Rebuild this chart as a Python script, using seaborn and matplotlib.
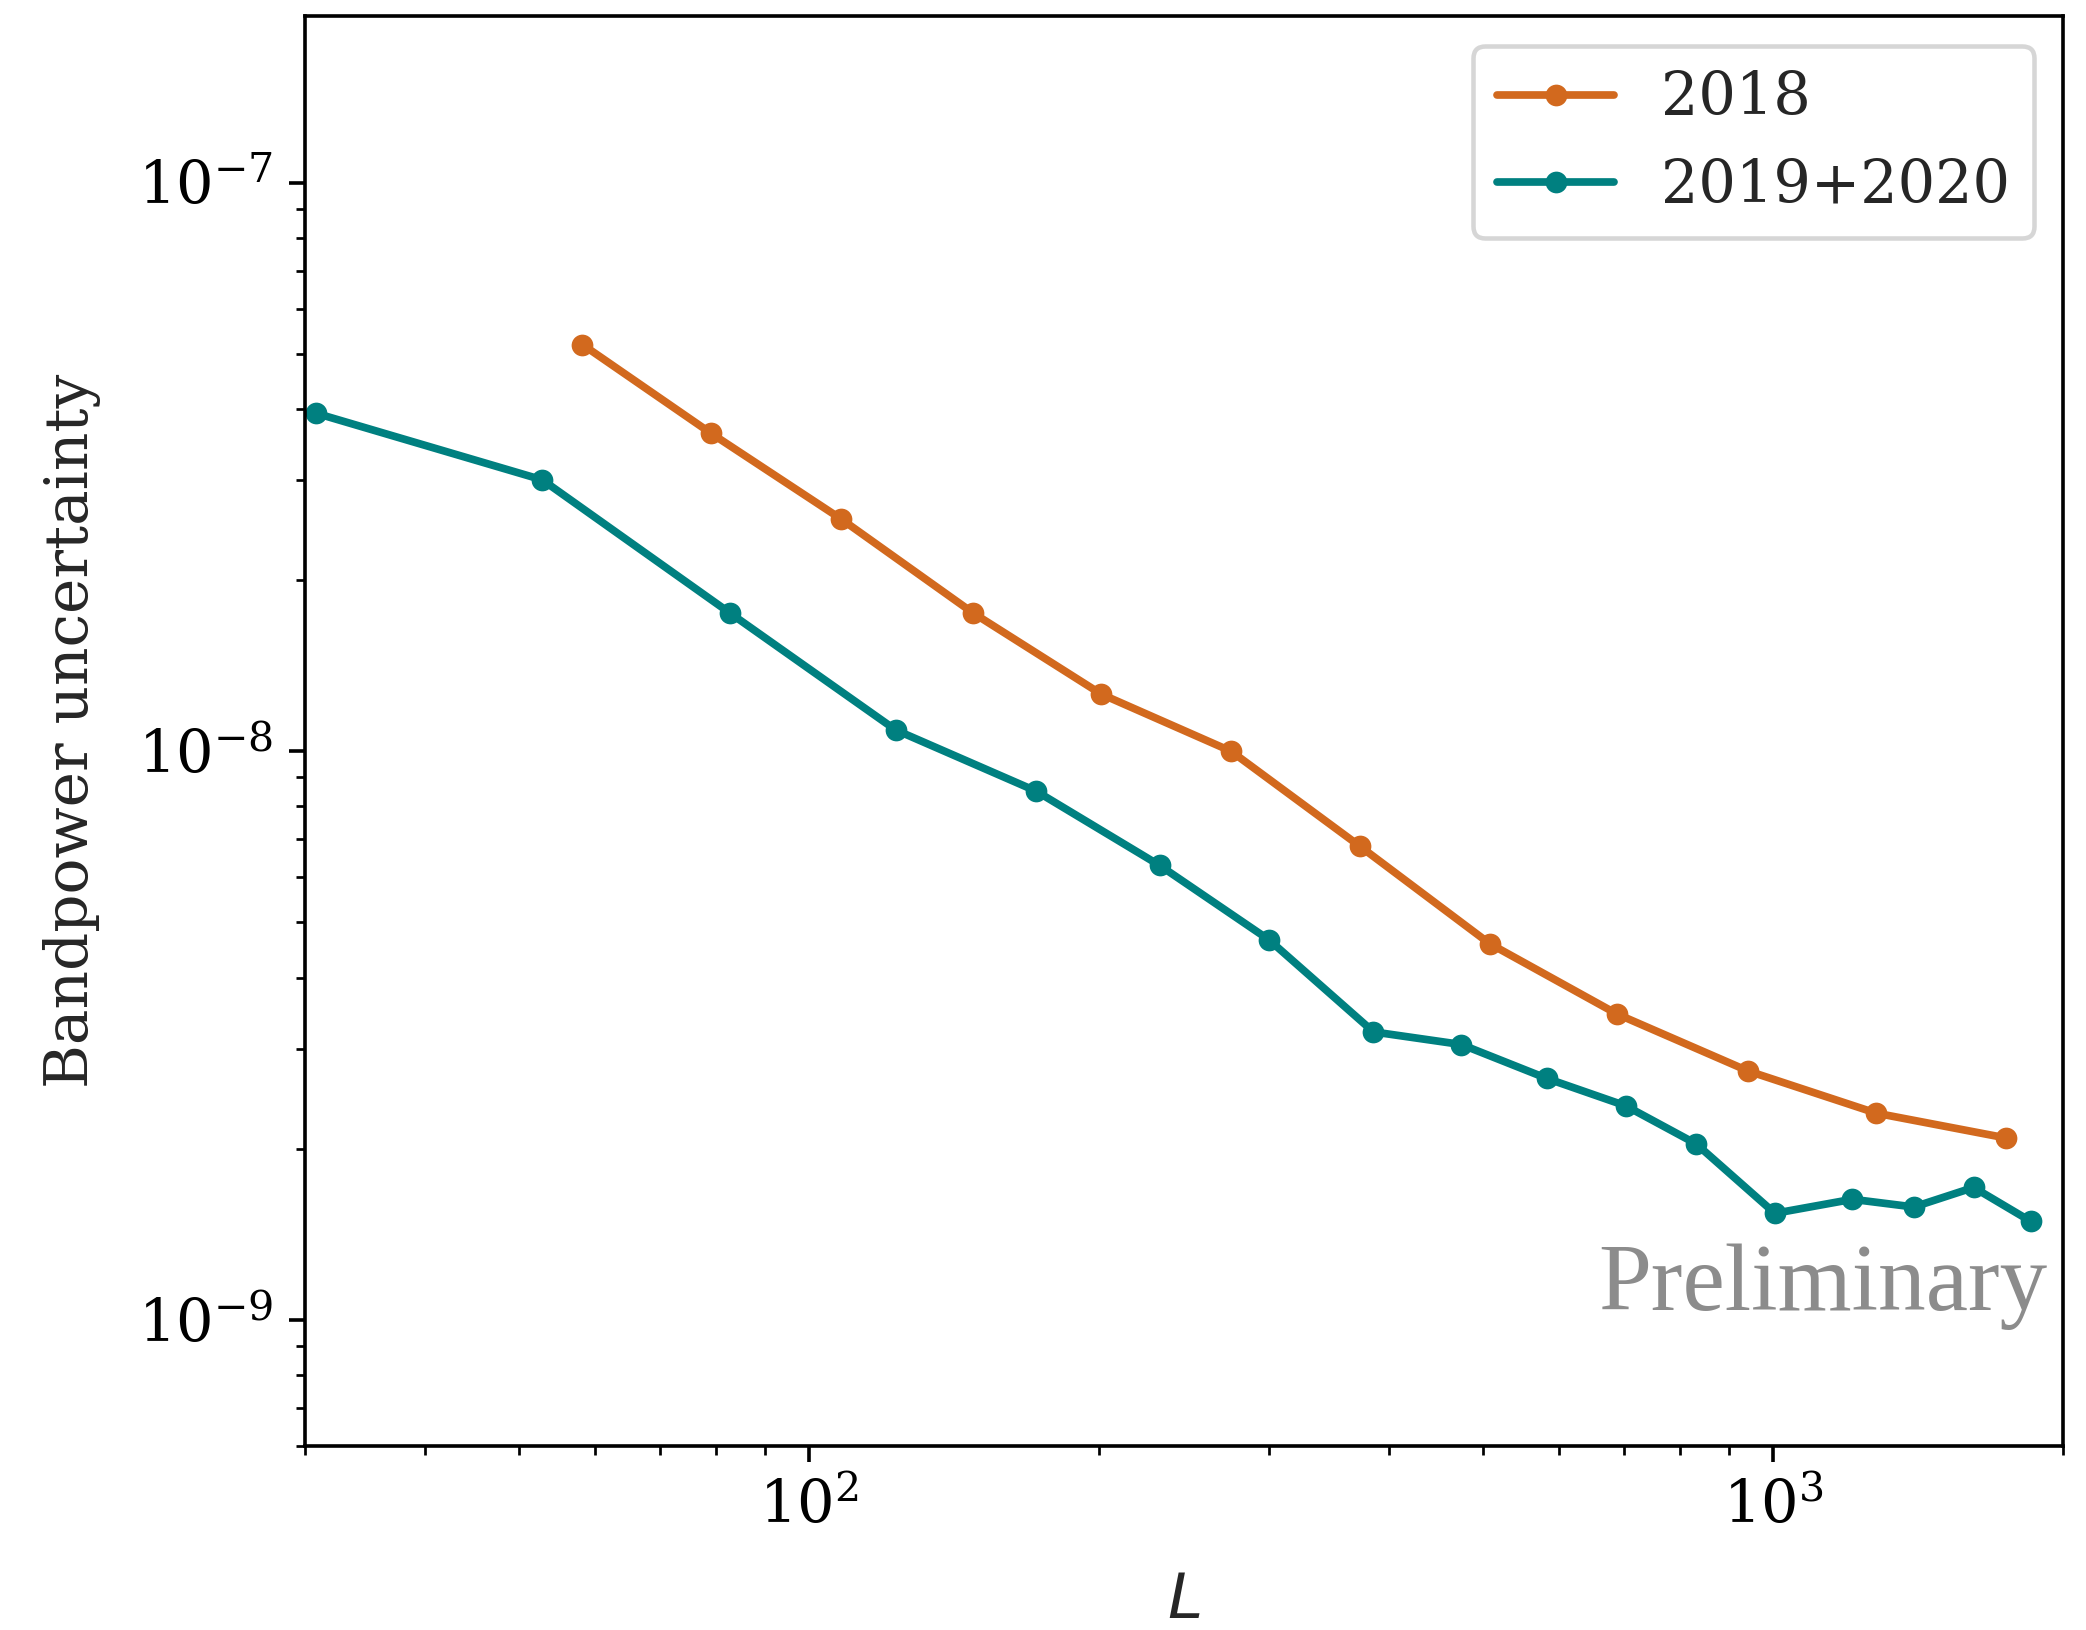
import numpy as np
import pandas as pd
import matplotlib
matplotlib.use("Agg")
import matplotlib.pyplot as plt
import seaborn as sns

# ---- data ----
L_2018 = [58.2, 79.2, 108, 148, 201, 274, 373, 508, 689, 942, 1279, 1742]
unc_2018 = [5.19e-8, 3.62e-8, 2.56e-8, 1.75e-8, 1.26e-8, 1.0e-8, 6.8e-9,
            4.59e-9, 3.45e-9, 2.74e-9, 2.31e-9, 2.09e-9]

L_1920 = [30.8, 52.9, 82.8, 123, 172, 231, 300, 385, 475, 582, 703, 832,
          1004, 1208, 1399, 1614, 1851]
unc_1920 = [3.93e-8, 3.0e-8, 1.75e-8, 1.09e-8, 8.51e-9, 6.3e-9, 4.66e-9,
            3.21e-9, 3.05e-9, 2.66e-9, 2.38e-9, 2.04e-9, 1.54e-9, 1.63e-9,
            1.58e-9, 1.71e-9, 1.49e-9]

series_names = ["2018", "2019+2020"]
series_colors = ["#d2691e", "#008080"]

df = pd.concat([
    pd.DataFrame({"L": L_2018, "unc": unc_2018, "set": series_names[0]}),
    pd.DataFrame({"L": L_1920, "unc": unc_1920, "set": series_names[1]}),
])

sns.set_style("ticks")
plt.rcParams.update({
    "font.family": ["DejaVu Serif"],
    "axes.edgecolor": "black",
    "axes.linewidth": 0.8,
    "xtick.color": "black",
    "ytick.color": "black",
    "xtick.major.size": 3.5,
    "ytick.major.size": 3.5,
    "xtick.minor.size": 2,
    "ytick.minor.size": 2,
    "xtick.major.width": 0.8,
    "ytick.major.width": 0.8,
    "xtick.minor.width": 0.6,
    "ytick.minor.width": 0.6,
    "xtick.labelsize": 13,
    "ytick.labelsize": 13,
    "mathtext.fontset": "dejavusans",
})

fig = plt.figure(figsize=(6.4, 5.0), dpi=326)
ax = fig.add_axes([0.1461, 0.1128, 0.989 - 0.1461, 0.990 - 0.1128])

for name, col in zip(series_names, series_colors):
    sub = df[df["set"] == name]
    sns.lineplot(data=sub, x="L", y="unc", ax=ax, color=col, marker="o",
                 markersize=4.8, markeredgewidth=0, linewidth=1.7,
                 label=name, sort=False, estimator=None)

ax.set_xscale("log")
ax.set_yscale("log")
ax.set_xlim(30, 2000)
ax.set_ylim(6e-10, 1.96e-7)

ax.set_xlabel("$L$", fontsize=14, labelpad=7.5)
ax.set_ylabel("Bandpower uncertainty", fontsize=13.2, labelpad=8)

leg = ax.legend(loc="upper right", fontsize=13, frameon=True,
                fancybox=True, framealpha=0.8, edgecolor="0.8")

ax.text(0.991, 0.095, "Preliminary", transform=ax.transAxes,
        ha="right", va="baseline", fontsize=21, color="#8c8c8c",
        family=["Liberation Serif", "DejaVu Serif"])

fig.savefig("out.png", dpi=326)
